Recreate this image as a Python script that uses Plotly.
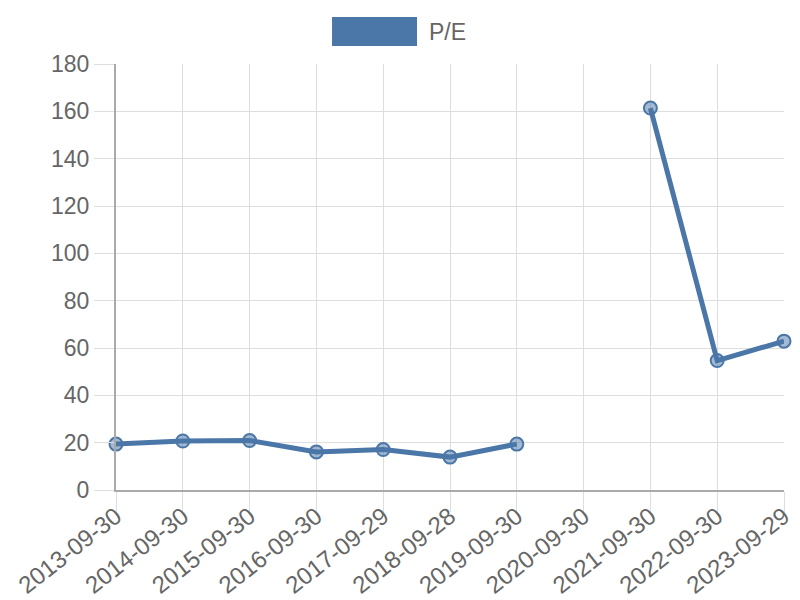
import plotly.graph_objects as go

dates = ["2013-09-30", "2014-09-30", "2015-09-30", "2016-09-30", "2017-09-29",
         "2018-09-28", "2019-09-30", "2020-09-30", "2021-09-30", "2022-09-30", "2023-09-29"]
pe = [19.4, 20.7, 20.9, 16.1, 17.1, 13.9, 19.4, None, 161.4, 54.7, 62.9]
series_name = "P/E"

blue = "rgb(74,118,168)"
font = "Liberation Sans, Arial, sans-serif"

fig = go.Figure()
fig.add_trace(go.Scatter(
    x=dates, y=pe, mode="lines+markers", name=series_name,
    line=dict(color=blue, width=5),
    marker=dict(size=13, color="rgba(74,118,168,0.5)", line=dict(color=blue, width=2)),
    connectgaps=False, cliponaxis=False, showlegend=False, hoverinfo="x+y",
))

fig.update_layout(
    width=800, height=600,
    margin=dict(l=116, r=16, t=64, b=110),
    plot_bgcolor="white", paper_bgcolor="white",
    font=dict(family=font, size=22, color="#666666"),
    xaxis=dict(
        type="category", range=[0, 10], automargin=False,
        showgrid=True, gridcolor="#dedede", gridwidth=1,
        ticks="outside", ticklen=20, tickcolor="#dedede",
        showline=True, linecolor="#aaaaaa", linewidth=2,
        tickangle=-38, tickfont=dict(size=24, color="#666666"),
        ticklabelstandoff=-19,
    ),
    yaxis=dict(
        range=[0, 180], dtick=20, automargin=False,
        showgrid=True, gridcolor="#dedede", gridwidth=1,
        ticks="outside", ticklen=20, tickcolor="#dedede",
        showline=True, linecolor="#aaaaaa", linewidth=2,
        zeroline=False, tickfont=dict(size=23, color="#666666"),
    ),
    shapes=[dict(type="rect", xref="paper", yref="paper",
                 x0=0.3234, x1=0.4506, y0=1.0423, y1=1.1103,
                 fillcolor=blue, line=dict(width=0))],
    annotations=[dict(text=series_name, xref="paper", yref="paper",
                      x=0.4656, y=1.075, xanchor="left", yanchor="middle",
                      showarrow=False, font=dict(size=23, color="#666666"))],
)

fig.write_html("out.html", config={"displayModeBar": False},
               post_script="document.body.style.margin='0';document.body.style.overflow='hidden';")
